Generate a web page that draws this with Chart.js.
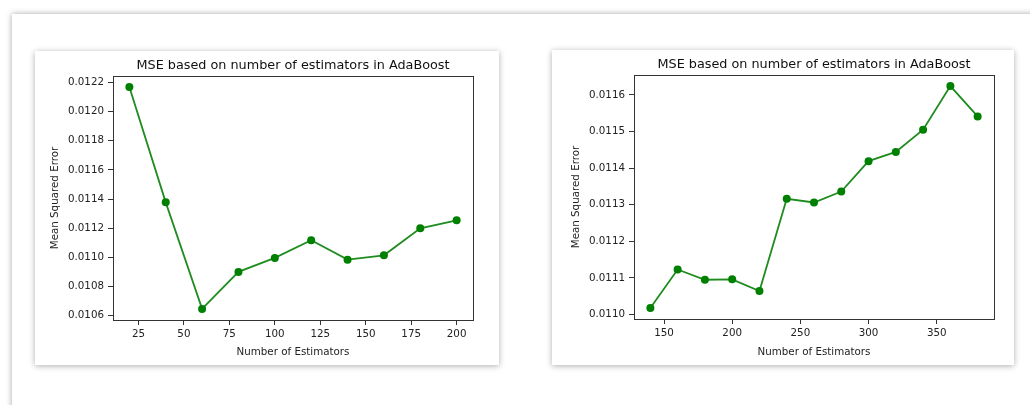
<!DOCTYPE html>
<html>
<head>
<meta charset="utf-8">
<script src="https://cdn.jsdelivr.net/npm/chart.js@4"></script>
<style>
  html, body { margin: 0; padding: 0; background: #fff; width: 1030px; height: 405px; overflow: hidden; }
  .outer {
    position: absolute; left: 12px; top: 14px; width: 1100px; height: 450px;
    background: #fff; box-shadow: 0 0 6px rgba(0, 0, 0, 0.35);
  }
  .card {
    position: absolute; background: #fff;
    box-shadow: 0 1px 6px rgba(0, 0, 0, 0.32);
  }
  #card1 { left: 35px; top: 51px; width: 464px; height: 314px; }
  #card2 { left: 552px; top: 50px; width: 462px; height: 315px; }
  canvas { display: block; }
</style>
</head>
<body>
<div class="outer"></div>
<div class="card" id="card1"><canvas id="chart1" width="464" height="314"></canvas></div>
<div class="card" id="card2"><canvas id="chart2" width="462" height="315"></canvas></div>

<script>
// left chart
const estimators1 = [20, 40, 60, 80, 100, 120, 140, 160, 180, 200];
const mse1 = [0.012168, 0.011377, 0.010646, 0.010900, 0.010996, 0.011117, 0.010984, 0.011014, 0.011199, 0.011254];
const xTicks1 = [25, 50, 75, 100, 125, 150, 175, 200];
const yTicks1 = [0.0106, 0.0108, 0.0110, 0.0112, 0.0114, 0.0116, 0.0118, 0.0120, 0.0122];

// right chart
const estimators2 = [140, 160, 180, 200, 220, 240, 260, 280, 300, 320, 340, 360, 380];
const mse2 = [0.011018, 0.011123, 0.011095, 0.011096, 0.011064, 0.011316, 0.011306, 0.011336, 0.011419, 0.011444, 0.011505, 0.011624, 0.011541];
const xTicks2 = [150, 200, 250, 300, 350];
const yTicks2 = [0.0110, 0.0111, 0.0112, 0.0113, 0.0114, 0.0115, 0.0116];

const chartTitle = "MSE based on number of estimators in AdaBoost";

Chart.defaults.font.family = "'DejaVu Sans', sans-serif";
Chart.defaults.color = "#222";

const frame = {
    id: "frame",
    afterDraw(chart) {
        const a = chart.chartArea, c = chart.ctx;
        c.save();
        c.strokeStyle = "#333";
        c.lineWidth = 1;
        c.strokeRect(Math.round(a.left) + 0.5, Math.round(a.top) + 0.5,
            Math.round(a.right - a.left), Math.round(a.bottom - a.top));
        c.restore();
    }
};

// matplotlib style 5% margins
function pad(vals) {
    let lo = Math.min(...vals), hi = Math.max(...vals), m = (hi - lo) * 0.05;
    return [lo - m, hi + m];
}

function makeChart(id, xs, ys, xTicks, yTicks, lay) {
    const [xmin, xmax] = pad(xs);
    const [ymin, ymax] = pad(ys);
    return new Chart(document.getElementById(id), {
        type: "line",
        data: {
            datasets: [{
                xAxisID: "x",
                yAxisID: "y",
                data: xs.map((x, i) => ({ x: x, y: ys[i] })),
                borderColor: "#1f8c1f",
                borderWidth: 1.8,
                pointBackgroundColor: "#008000",
                pointBorderColor: "#008000",
                pointRadius: 4,
                pointBorderWidth: 0,
                tension: 0
            }]
        },
        options: {
            responsive: false,
            animation: false,
            events: [],
            layout: { padding: { left: 0, top: 0, right: lay.right, bottom: 0 } },
            plugins: {
                legend: { display: false },
                tooltip: { enabled: false },
                title: { display: false }
            },
            scales: {
                x: {
                    type: "linear",
                    min: xmin, max: xmax,
                    afterFit(s) { s.height = lay.bottom; },
                    afterBuildTicks(s) { s.ticks = xTicks.map(v => ({ value: v })); },
                    border: { display: false },
                    grid: { drawOnChartArea: false, drawTicks: true, tickLength: 5, color: "#333" },
                    ticks: { padding: 3, font: { size: 10.3 }, maxRotation: 0, callback: v => String(v) },
                    title: { display: true, text: "Number of Estimators", font: { size: 10.3 }, padding: { top: 0, bottom: 6 } }
                },
                y: {
                    type: "linear",
                    min: ymin, max: ymax,
                    afterFit(s) { s.width = lay.left; },
                    afterBuildTicks(s) { s.ticks = yTicks.map(v => ({ value: v })); },
                    border: { display: false },
                    grid: { drawOnChartArea: false, drawTicks: true, tickLength: 5, color: "#333" },
                    ticks: { padding: 4, font: { size: 10.3 }, callback: v => v.toFixed(4) },
                    title: { display: true, text: "Mean Squared Error", font: { size: 10.3 }, padding: { top: lay.ytitle, bottom: 0 } }
                },
                // top axis only carries the title so it centres over the plot
                top: {
                    type: "linear",
                    position: "top",
                    afterFit(s) { s.height = 25; },
                    border: { display: false },
                    grid: { display: false },
                    ticks: { display: false },
                    title: {
                        display: true, text: chartTitle, color: "#111",
                        font: { size: 12.8 }, padding: { top: 7, bottom: 0 }
                    }
                }
            }
        },
        plugins: [frame]
    });
}

makeChart("chart1", estimators1, mse1, xTicks1, yTicks1, { left: 78, right: 26, bottom: 45, ytitle: 14.5 });
makeChart("chart2", estimators2, mse2, xTicks2, yTicks2, { left: 82, right: 20, bottom: 46, ytitle: 18.5 });
</script>
</body>
</html>
